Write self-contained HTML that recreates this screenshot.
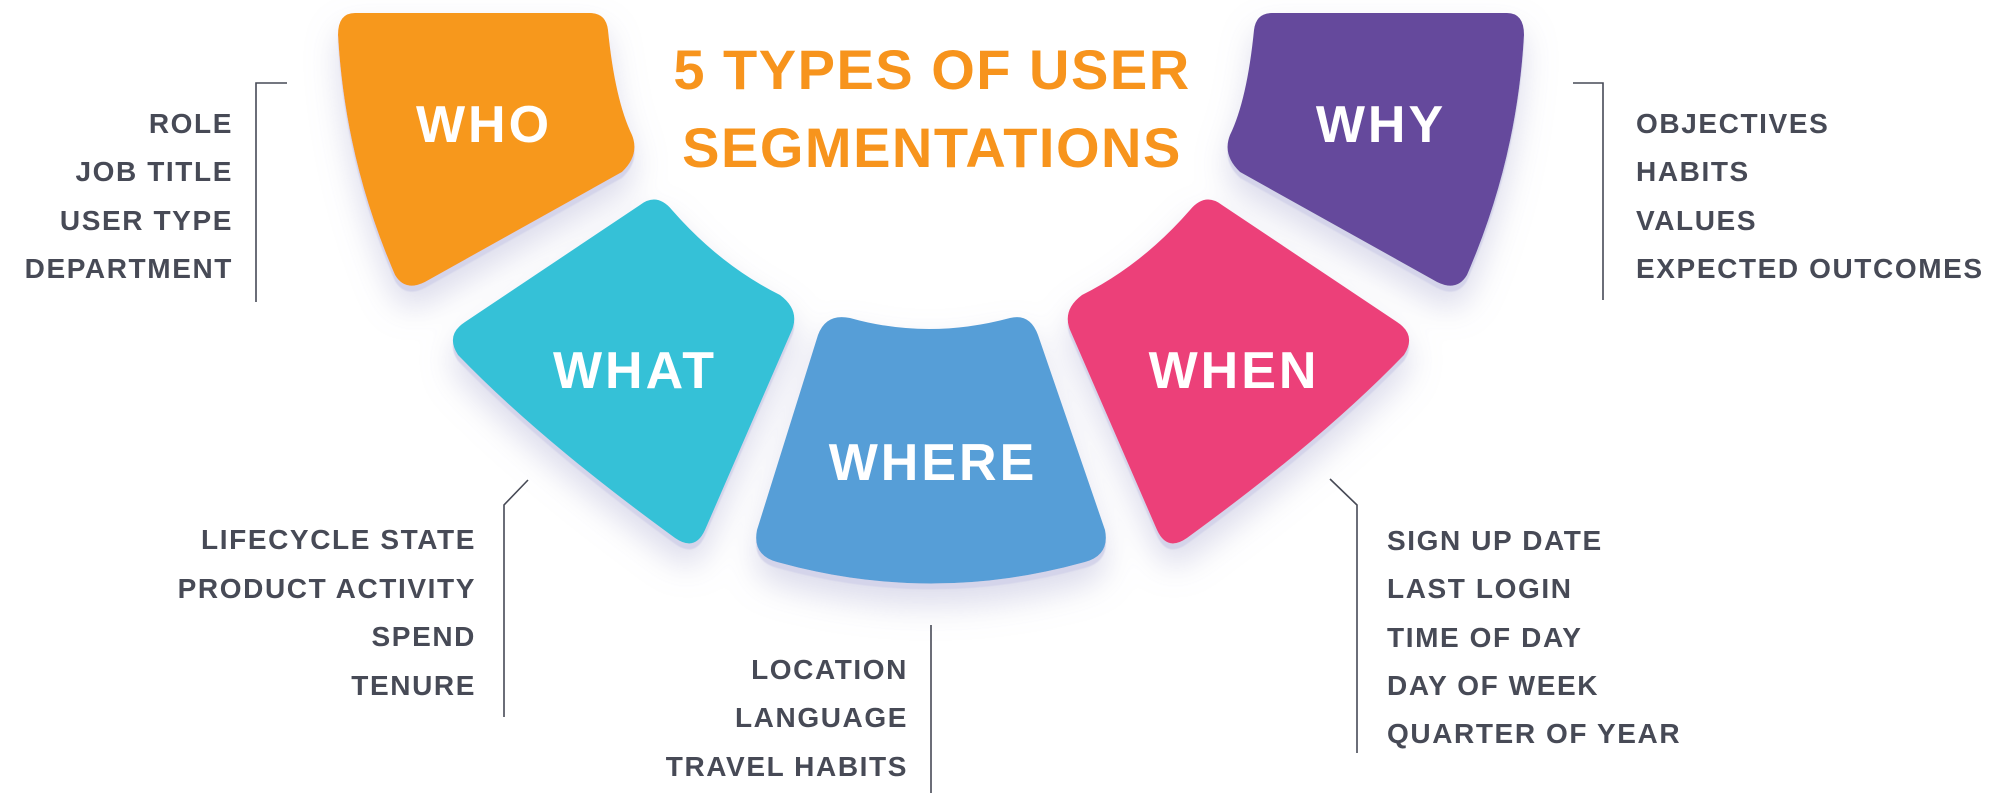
<!DOCTYPE html>
<html><head><meta charset="utf-8"><style>
html,body{margin:0;padding:0;background:#fff;}
svg{display:block;}
text{font-family:"Liberation Sans",sans-serif;font-weight:bold;}
.l{fill:#474a56;font-size:28px;letter-spacing:1.6px;}
.s{fill:#fff;font-size:52px;letter-spacing:3px;}
.t{fill:#f7941d;font-size:56px;letter-spacing:1.5px;}
</style></head><body>
<svg width="2000" height="807" viewBox="0 0 2000 807" xmlns="http://www.w3.org/2000/svg">
<defs>
<filter id="sh" x="-30%" y="-30%" width="160%" height="160%">
<feDropShadow dx="0" dy="6" stdDeviation="0.5" flood-color="#d4d4ea" flood-opacity="1" result="a"/>
<feDropShadow dx="0" dy="16" stdDeviation="16" flood-color="#9a9ac8" flood-opacity="0.35"/>
</filter>
<path id="who" d="M355,13 L590,13 Q606,13 608,30 Q615,100 632,135 Q640,155 622,172 L425,282 Q405,292 395,275 Q345,160 338,35 Q338,13 355,13 Z"/>
<path id="what" d="M640,205 Q657,192 672,210 Q720,265 780,295 Q800,310 792,330 L705,530 Q695,552 675,538 Q540,440 458,355 Q445,335 465,322 Z"/>
</defs>
<g filter="url(#sh)">
<use href="#who" fill="#f7981f"/>
<use href="#who" fill="#654a9c" transform="translate(1862,0) scale(-1,1)"/>
<use href="#what" fill="#35c1d7"/>
<use href="#what" fill="#ec3f79" transform="translate(1862,0) scale(-1,1)"/>
<path d="M850,318 Q928,340 1010,318 Q1030,313 1038,335 L1105,530 Q1110,555 1085,562 Q931,605 777,562 Q752,555 757,530 L818,335 Q826,313 850,318 Z" fill="#579ed7"/>
</g>
<text class="t" x="932" y="89" text-anchor="middle">5 TYPES OF USER</text>
<text class="t" x="932" y="167" text-anchor="middle">SEGMENTATIONS</text>
<text class="s" x="484" y="142" text-anchor="middle">WHO</text>
<text class="s" x="1381" y="142" text-anchor="middle">WHY</text>
<text class="s" x="635" y="388" text-anchor="middle">WHAT</text>
<text class="s" x="1234" y="388" text-anchor="middle">WHEN</text>
<text class="s" x="933" y="480" text-anchor="middle">WHERE</text>
<g stroke="#474a56" stroke-width="1.6" fill="none">
<path d="M287,83 L256,83 L256,302"/>
<path d="M1573,83 L1603,83 L1603,300"/>
<path d="M528,480 L504,505 L504,717"/>
<path d="M1330,479 L1357,505 L1357,753"/>
<path d="M931,625 L931,793"/>
</g>
<g class="l" text-anchor="end">
<text x="233" y="133">ROLE</text>
<text x="233" y="181">JOB TITLE</text>
<text x="233" y="230">USER TYPE</text>
<text x="233" y="278">DEPARTMENT</text>
<text x="476" y="549">LIFECYCLE STATE</text>
<text x="476" y="598">PRODUCT ACTIVITY</text>
<text x="476" y="646">SPEND</text>
<text x="476" y="695">TENURE</text>
<text x="908" y="679">LOCATION</text>
<text x="908" y="727">LANGUAGE</text>
<text x="908" y="776">TRAVEL HABITS</text>
</g>
<g class="l">
<text x="1387" y="550">SIGN UP DATE</text>
<text x="1387" y="598">LAST LOGIN</text>
<text x="1387" y="647">TIME OF DAY</text>
<text x="1387" y="695">DAY OF WEEK</text>
<text x="1387" y="743">QUARTER OF YEAR</text>
<text x="1636" y="133">OBJECTIVES</text>
<text x="1636" y="181">HABITS</text>
<text x="1636" y="230">VALUES</text>
<text x="1636" y="278">EXPECTED OUTCOMES</text>
</g>
</svg>
</body></html>
